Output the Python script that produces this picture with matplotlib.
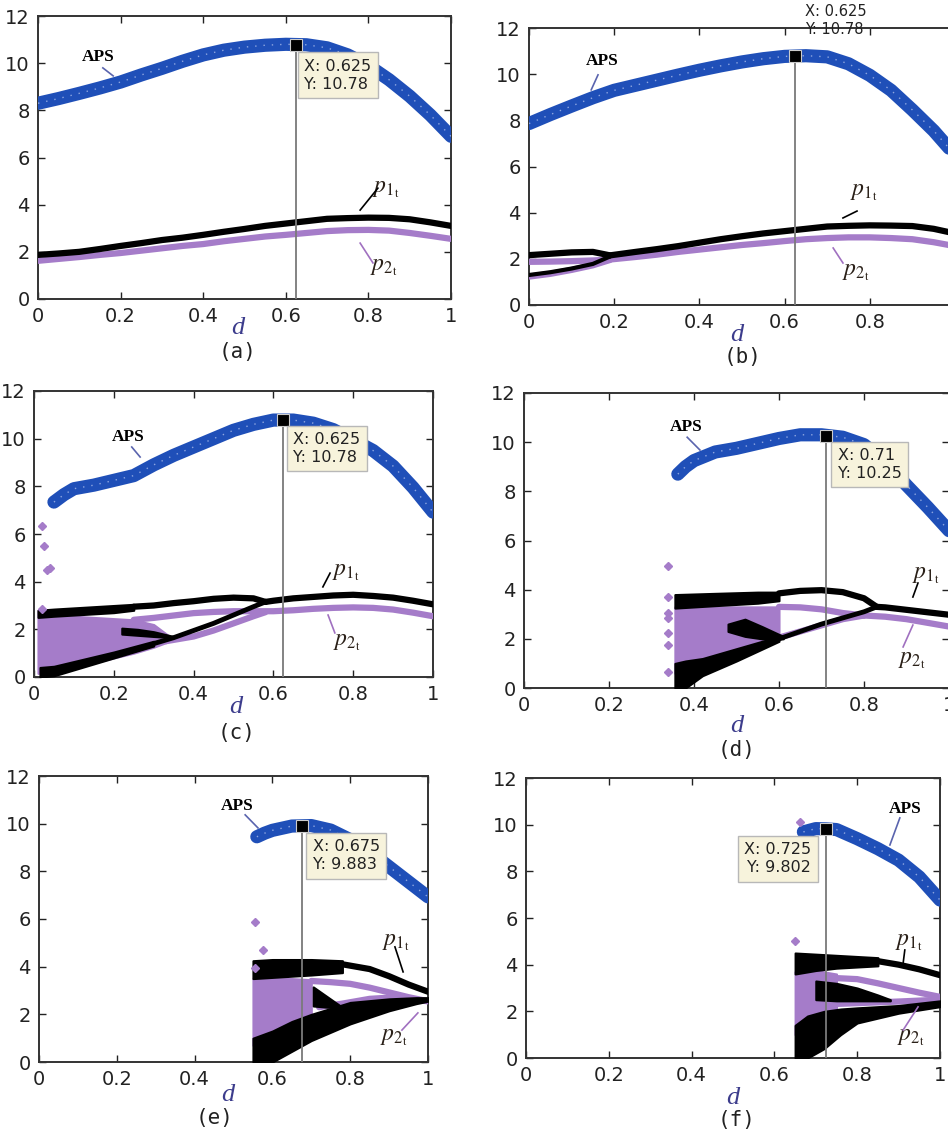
import matplotlib.pyplot as plt

# ---------------------------------------------------------------
# colours
# ---------------------------------------------------------------
BLUE = '#1f4fb8'
PURPLE = '#a57cc9'
BLACK = '#000000'
TIPBG = '#f7f3dc'

# ---------------------------------------------------------------
# data
# ---------------------------------------------------------------
grid = [0, .05, .1, .15, .2, .25, .3, .35, .4, .45, .5,
        .55, .6, .65, .7, .75, .8, .85, .9, .95, 1.0]

# (a)
aps_a = [8.3, 8.5, 8.72, 8.95, 9.2, 9.5, 9.78, 10.08, 10.35, 10.55, 10.68,
         10.76, 10.8, 10.78, 10.65, 10.35, 9.9, 9.3, 8.6, 7.8, 6.9]
p1_a = [1.87, 1.93, 2.0, 2.12, 2.25, 2.37, 2.5, 2.6, 2.72, 2.85, 2.97,
        3.1, 3.2, 3.3, 3.4, 3.43, 3.45, 3.44, 3.38, 3.25, 3.1]
p2_a = [1.62, 1.7, 1.78, 1.87, 1.95, 2.05, 2.15, 2.25, 2.33, 2.45, 2.55,
        2.65, 2.72, 2.8, 2.88, 2.92, 2.93, 2.9, 2.8, 2.68, 2.55]

# (b)
aps_b = [7.86, 8.25, 8.62, 8.98, 9.3, 9.52, 9.74, 9.96, 10.17, 10.36, 10.53,
         10.67, 10.77, 10.8, 10.75, 10.45, 9.95, 9.3, 8.45, 7.55, 6.5]
d_b_split = [0, .05, .1, .15, .19]
p1_b_hi = [2.16, 2.22, 2.28, 2.3, 2.15]
p1_b_lo = [1.3, 1.42, 1.58, 1.78, 2.1]
p2_b_hi = [1.87, 1.88, 1.9, 1.93, 1.97]
p2_b_lo = [1.23, 1.35, 1.52, 1.72, 1.95]
d_b_tail = [.19, .25, .3, .35, .4, .45, .5, .55, .6, .65, .7, .75, .8, .85, .9, .95, 1.0]
p1_b = [2.15, 2.3, 2.42, 2.55, 2.7, 2.85, 2.98, 3.1, 3.2, 3.3, 3.4, 3.43, 3.45, 3.44, 3.42, 3.3, 3.1]
p2_b = [1.97, 2.08, 2.18, 2.3, 2.4, 2.5, 2.6, 2.68, 2.77, 2.85, 2.9, 2.93, 2.93, 2.9, 2.85, 2.72, 2.55]

# (c)
d_c_aps = [.05, .075, .1, .15, .2, .25, .3, .35, .4, .45, .5, .55, .6, .65,
           .7, .75, .8, .85, .9, .95, 1.0]
aps_c = [7.34, 7.65, 7.9, 8.05, 8.25, 8.45, 8.9, 9.3, 9.65, 10.0, 10.35, 10.6,
         10.78, 10.78, 10.65, 10.38, 9.95, 9.5, 8.85, 7.95, 6.92]
c_mass_d = [.01, .05, .1, .15, .2, .25, .3, .34]
c_mass_lo = [.15, .3, .45, .6, .8, 1.0, 1.25, 1.5]
c_mass_hi = [2.8, 2.6, 2.55, 2.5, 2.45, 2.4, 2.2, 1.7]
c_top_d = [.01, .05, .1, .15, .2, .25]
c_top_lo = [2.5, 2.55, 2.6, 2.65, 2.7, 2.8]
c_top_hi = [2.8, 2.85, 2.9, 2.95, 3.0, 3.05]
c_bot_d = [.015, .05, .1, .2, .3]
c_bot_lo = [0.0, .05, .3, .8, 1.3]
c_bot_hi = [.4, .45, .65, 1.05, 1.5]
c_isl_d = [.22, .26, .3, .35]
c_isl_lo = [1.8, 1.75, 1.7, 1.65]
c_isl_hi = [2.05, 2.0, 1.9, 1.7]
c_p1up_d = [.25, .3, .35, .4, .45, .5, .55, .58]
c_p1up = [2.95, 3.0, 3.1, 3.18, 3.28, 3.33, 3.3, 3.15]
c_p1lo_d = [.3, .35, .4, .45, .5, .55, .58]
c_p1lo = [1.4, 1.65, 1.95, 2.25, 2.6, 2.95, 3.15]
c_p1_d = [.58, .6, .65, .7, .75, .8, .85, .9, .95, 1.0]
c_p1 = [3.15, 3.2, 3.3, 3.36, 3.42, 3.45, 3.4, 3.33, 3.2, 3.05]
c_p2up_d = [.25, .3, .35, .4, .45, .5, .55, .6, .65, .7, .75, .8, .85, .9, .95, 1.0]
c_p2up = [2.4, 2.48, 2.58, 2.68, 2.73, 2.76, 2.76, 2.76, 2.8, 2.86, 2.9, 2.92, 2.9, 2.83, 2.7, 2.55]
c_p2lo_d = [.33, .4, .45, .5, .55, .58]
c_p2lo = [1.5, 1.7, 1.95, 2.25, 2.55, 2.72]
c_out_d = [.02, .025, .033, .04, .02]
c_out_y = [6.34, 5.5, 4.49, 4.57, 2.85]

# (d)
d_d_aps = [.362, .38, .4, .45, .5, .55, .6, .65, .7, .75, .8, .85, .9, .95, 1.0]
aps_d = [8.7, 9.0, 9.25, 9.6, 9.75, 9.95, 10.15, 10.3, 10.3, 10.2, 9.9, 9.2, 8.25, 7.35, 6.4]
d_mass_d = [.355, .4, .45, .5, .55, .6]
d_mass_lo = [.6, .9, 1.2, 1.5, 1.8, 2.05]
d_mass_hi = [3.3, 3.3, 3.3, 3.3, 3.3, 3.3]
d_top_d = [.355, .45, .55, .6]
d_top_lo = [3.25, 3.35, 3.45, 3.55]
d_top_hi = [3.8, 3.85, 3.9, 3.9]
d_bot_d = [.355, .38, .42, .5, .6]
d_bot_lo = [0.0, 0.0, .5, 1.1, 1.9]
d_bot_hi = [1.0, 1.1, 1.2, 1.6, 2.1]
d_isl_d = [.48, .52, .56, .61]
d_isl_lo = [2.3, 2.1, 2.0, 2.0]
d_isl_hi = [2.6, 2.8, 2.5, 2.1]
d_p1up_d = [.6, .65, .7, .75, .8, .83]
d_p1up = [3.85, 3.95, 3.98, 3.9, 3.65, 3.3]
d_p1lo_d = [.6, .65, .7, .75, .8, .83]
d_p1lo = [2.0, 2.3, 2.6, 2.85, 3.1, 3.3]
d_p1_d = [.83, .85, .9, .95, 1.0]
d_p1 = [3.3, 3.28, 3.18, 3.08, 2.98]
d_p2up_d = [.6, .65, .7, .75, .8]
d_p2up = [3.3, 3.28, 3.2, 3.05, 2.95]
d_p2lo_d = [.6, .65, .7, .75, .8]
d_p2lo = [2.05, 2.3, 2.55, 2.8, 2.95]
d_p2_d = [.8, .85, .9, .95, 1.0]
d_p2 = [2.95, 2.9, 2.8, 2.65, 2.5]
d_out_d = [.339, .339, .339, .339, .339, .339, .339]
d_out_y = [4.96, 3.7, 3.05, 2.85, 2.24, 1.75, .65]

# (e)
d_e_aps = [.56, .58, .6, .65, .7, .75, .8, .85, .9, .95, 1.0]
aps_e = [9.45, 9.6, 9.72, 9.9, 9.92, 9.73, 9.33, 8.82, 8.19, 7.56, 6.93]
e_mass_d = [.55, .6, .65, .7]
e_mass_lo = [.7, 1.0, 1.4, 1.8]
e_mass_hi = [3.5, 3.5, 3.5, 3.45]
e_top_d = [.55, .6, .7, .78]
e_top_lo = [3.5, 3.55, 3.65, 3.75]
e_top_hi = [4.25, 4.3, 4.3, 4.25]
e_bot_d = [.55, .6, .65, .7, .8, .9, .97, 1.0]
e_bot_lo = [0.0, 0.0, .45, .9, 1.6, 2.15, 2.45, 2.55]
e_bot_hi = [1.0, 1.3, 1.7, 2.0, 2.5, 2.65, 2.7, 2.7]
e_isl_d = [.705, .74, .775]
e_isl_lo = [2.35, 2.3, 2.28]
e_isl_hi = [3.15, 2.75, 2.35]
e_p1up_d = [.78, .85, .9, .95, 1.0]
e_p1up = [4.1, 3.9, 3.6, 3.25, 2.95]
e_p2up_d = [.7, .75, .8, .85, .9, .95, 1.0]
e_p2up = [3.4, 3.35, 3.28, 3.12, 2.92, 2.72, 2.55]
e_p2lo_d = [.72, .78, .85, .9, .95, 1.0]
e_p2lo = [2.3, 2.45, 2.65, 2.7, 2.62, 2.55]
e_out_d = [.555, .576, .555]
e_out_y = [5.87, 4.7, 3.94]

# (f)
d_f_aps = [.67, .7, .725, .75, .8, .85, .9, .95, 1.0]
aps_f = [9.69, 9.83, 9.82, 9.79, 9.4, 8.97, 8.48, 7.76, 6.77]
f_mass_d = [.65, .7, .75]
f_mass_lo = [1.0, 1.2, 1.5]
f_mass_hi = [3.7, 3.75, 3.6]
f_top_d = [.65, .7, .75, .8, .85]
f_top_lo = [3.6, 3.75, 3.85, 3.9, 3.95]
f_top_hi = [4.5, 4.45, 4.4, 4.35, 4.3]
f_bot_d = [.65, .68, .72, .76, .8, .9, 1.0]
f_bot_lo = [0.0, 0.0, .4, 1.0, 1.5, 1.92, 2.2]
f_bot_hi = [1.4, 1.8, 2.0, 2.1, 2.15, 2.25, 2.45]
f_isl_d = [.7, .75, .8, .85, .88]
f_isl_lo = [2.5, 2.45, 2.45, 2.45, 2.45]
f_isl_hi = [3.3, 3.2, 3.0, 2.7, 2.5]
f_p1up_d = [.85, .9, .95, 1.0]
f_p1up = [4.15, 4.0, 3.8, 3.55]
f_p2up_d = [.72, .8, .85, .9, .95, 1.0]
f_p2up = [3.45, 3.38, 3.2, 3.0, 2.8, 2.62]
f_p2lo_d = [.72, .8, .9, 1.0]
f_p2lo = [2.3, 2.35, 2.42, 2.5]
f_out_d = [.662, .65]
f_out_y = [10.11, 5.0]

# data tips: x, y
tips = {'a': (0.625, 10.78), 'b': (0.625, 10.78), 'c': (0.625, 10.78),
        'd': (0.71, 10.25), 'e': (0.675, 9.883), 'f': (0.725, 9.802)}

# ---------------------------------------------------------------
# figure
# ---------------------------------------------------------------
W, H = 948, 1133
fig = plt.figure(figsize=(W / 100, H / 100), dpi=100)
plt.rcParams['mathtext.fontset'] = 'stix'


def add_ax(l, t, r, b):
    return fig.add_axes([l / W, 1 - b / H, (r - l) / W, (b - t) / H])


def style(ax):
    ax.set_xlim(0, 1)
    ax.set_ylim(0, 12)
    ax.set_xticks([0, .2, .4, .6, .8, 1])
    ax.set_xticklabels(['0', '0.2', '0.4', '0.6', '0.8', '1'])
    ax.set_yticks([0, 2, 4, 6, 8, 10, 12])
    ax.tick_params(direction='in', top=True, right=True, length=5, width=1,
                   labelsize=14, colors='#222222', pad=6)
    for s in ax.spines.values():
        s.set_linewidth(1.4)
        s.set_color('#333333')


def aps(ax, d, y):
    # thick band of the APS curve with light speckle inside
    ax.plot(d, y, color=BLUE, lw=9.5, solid_capstyle='round', zorder=3)
    ax.plot(d, y, ls=(0, (1, 5)), color='#8ea6e0', lw=1.0, zorder=4)


def line(ax, d, y, color, lw=4.5, z=4):
    ax.plot(d, y, color=color, lw=lw, solid_capstyle='round', zorder=z)


def band(ax, d, lo, hi, color, z=3):
    ax.fill_between(d, lo, hi, color=color, lw=1.5, edgecolor=color, zorder=z)


def tip(ax, key, dx, dy, ha='left', va='top', box=True, fs=11.5):
    x, y = tips[key]
    ax.plot([x, x], [0, y], color='#7a7a7a', lw=1.3, zorder=5)
    ax.plot(x, y, 's', ms=8, mfc='black', mec='#cccccc', mew=0.8, zorder=7)
    kw = dict(xy=(x, y), xytext=(dx, dy), textcoords='offset pixels', ha=ha, va=va,
              fontsize=fs, color='#222222', zorder=8, linespacing=1.25,
              annotation_clip=False)
    if box:
        kw['bbox'] = dict(boxstyle='square,pad=0.4', fc=TIPBG, ec='#b8b8b8', lw=1)
    ax.annotate(f'X: {x:g}\nY: {y:g}', **kw)


def labels(ax, aps_txt, aps_ln, p1_txt, p1_ln, p2_txt, p2_ln):
    ax.text(*aps_txt, 'APS', fontsize=12.5, family='Liberation Serif',
            weight='bold', ha='center', va='center', zorder=8)
    ax.plot(*aps_ln, color='#5a64ae', lw=1.2, zorder=8)
    ax.text(*p1_txt, r'$p_{1_{\mathrm{t}}}$', fontsize=17, color='#2a2018',
            ha='left', va='baseline', zorder=8)
    ax.plot(*p1_ln, color=BLACK, lw=1.2, zorder=8)
    ax.text(*p2_txt, r'$p_{2_{\mathrm{t}}}$', fontsize=17, color='#2a2018',
            ha='left', va='baseline', zorder=8)
    ax.plot(*p2_ln, color='#a070c0', lw=1.2, zorder=8)


def captions(xd, yd, xc, yc, letter):
    fig.text(xd / W, 1 - yd / H, 'd', fontsize=19, family='Liberation Serif',
             style='italic', color='#3c3c8c', ha='center', va='center')
    fig.text(xc / W, 1 - yc / H, f'({letter})', fontsize=15, family='DejaVu Sans Mono',
             color='#222222', ha='center', va='center')


# (a)
ax = add_ax(38, 16, 451, 299)
style(ax)
aps(ax, grid, aps_a)
line(ax, grid, p2_a, PURPLE)
line(ax, grid, p1_a, BLACK)
tip(ax, 'a', 8, -14)
labels(ax, (0.145, 10.26), ([0.157, 0.182], [9.8, 9.46]),
       (0.809, 4.54), ([0.780, 0.823], [3.77, 4.7]),
       (0.804, 1.23), ([0.780, 0.811], [2.37, 1.53]))
captions(238, 328, 238, 352, 'a')

# (b)
ax = add_ax(529, 28, 955, 305)
style(ax)
aps(ax, grid, aps_b)
line(ax, d_b_split, p2_b_hi, PURPLE)
line(ax, d_b_split, p2_b_lo, PURPLE)
line(ax, d_b_tail, p2_b, PURPLE)
line(ax, d_b_split, p1_b_hi, BLACK)
line(ax, d_b_split, p1_b_lo, BLACK, lw=3)
line(ax, d_b_tail, p1_b, BLACK)
tip(ax, 'b', 10, 19, va='bottom', box=False, fs=10.5)
labels(ax, (0.171, 10.58), ([0.146, 0.162], [9.32, 9.97]),
       (0.754, 4.77), ([0.737, 0.770], [3.77, 4.07]),
       (0.735, 1.3), ([0.714, 0.737], [2.47, 1.82]))
captions(737, 335, 743, 357, 'b')

# (c)
ax = add_ax(34, 391, 433, 677)
style(ax)
aps(ax, d_c_aps, aps_c)
band(ax, c_mass_d, c_mass_lo, c_mass_hi, PURPLE, z=2)
line(ax, c_p2up_d, c_p2up, PURPLE, z=3)
line(ax, c_p2lo_d, c_p2lo, PURPLE, z=3)
band(ax, c_top_d, c_top_lo, c_top_hi, BLACK)
band(ax, c_bot_d, c_bot_lo, c_bot_hi, BLACK)
band(ax, c_isl_d, c_isl_lo, c_isl_hi, BLACK)
line(ax, c_p1up_d, c_p1up, BLACK)
line(ax, c_p1lo_d, c_p1lo, BLACK, lw=3.5)
line(ax, c_p1_d, c_p1, BLACK)
ax.plot(c_out_d, c_out_y, 'D', ms=4.5, color=PURPLE, zorder=4)
tip(ax, 'c', 10, -12)
labels(ax, (0.235, 10.07), ([0.245, 0.266], [9.65, 9.23]),
       (0.747, 4.28), ([0.724, 0.742], [3.78, 4.36]),
       (0.749, 1.34), ([0.737, 0.754], [2.6, 1.85]))
captions(236, 707, 237, 733, 'c')

# (d)
ax = add_ax(524, 393, 949, 688)
style(ax)
aps(ax, d_d_aps, aps_d)
band(ax, d_mass_d, d_mass_lo, d_mass_hi, PURPLE, z=2)
line(ax, d_p2up_d, d_p2up, PURPLE, z=3)
line(ax, d_p2lo_d, d_p2lo, PURPLE, z=3)
line(ax, d_p2_d, d_p2, PURPLE, z=3)
band(ax, d_top_d, d_top_lo, d_top_hi, BLACK)
band(ax, d_bot_d, d_bot_lo, d_bot_hi, BLACK)
band(ax, d_isl_d, d_isl_lo, d_isl_hi, BLACK)
line(ax, d_p1up_d, d_p1up, BLACK)
line(ax, d_p1lo_d, d_p1lo, BLACK, lw=3.5)
line(ax, d_p1_d, d_p1, BLACK)
ax.plot(d_out_d, d_out_y, 'D', ms=4.5, color=PURPLE, zorder=4)
tip(ax, 'd', 12, -12)
labels(ax, (0.381, 10.62), ([0.384, 0.414], [10.2, 9.68]),
       (0.913, 4.47), ([0.915, 0.927], [3.7, 4.27]),
       (0.88, 1.02), ([0.892, 0.915], [1.67, 2.56]))
captions(737, 726, 737, 750, 'd')

# (e)
ax = add_ax(39, 776, 428, 1062)
style(ax)
aps(ax, d_e_aps, aps_e)
band(ax, e_mass_d, e_mass_lo, e_mass_hi, PURPLE, z=2)
line(ax, e_p2up_d, e_p2up, PURPLE, z=3)
line(ax, e_p2lo_d, e_p2lo, PURPLE, z=3)
band(ax, e_top_d, e_top_lo, e_top_hi, BLACK)
band(ax, e_bot_d, e_bot_lo, e_bot_hi, BLACK)
band(ax, e_isl_d, e_isl_lo, e_isl_hi, BLACK)
line(ax, e_p1up_d, e_p1up, BLACK)
ax.plot(e_out_d, e_out_y, 'D', ms=4.5, color=PURPLE, zorder=4)
tip(ax, 'e', 11, -13)
labels(ax, (0.509, 10.74), ([0.53, 0.563], [10.37, 9.82]),
       (0.882, 4.91), ([0.915, 0.936], [4.83, 3.78]),
       (0.877, 0.92), ([0.933, 0.974], [1.34, 2.06]))
captions(228, 1095, 215, 1118, 'e')

# (f)
ax = add_ax(526, 778, 940, 1058)
style(ax)
aps(ax, d_f_aps, aps_f)
band(ax, f_mass_d, f_mass_lo, f_mass_hi, PURPLE, z=2)
line(ax, f_p2up_d, f_p2up, PURPLE, z=3)
line(ax, f_p2lo_d, f_p2lo, PURPLE, z=3)
band(ax, f_top_d, f_top_lo, f_top_hi, BLACK)
band(ax, f_bot_d, f_bot_lo, f_bot_hi, BLACK)
band(ax, f_isl_d, f_isl_lo, f_isl_hi, BLACK)
line(ax, f_p1up_d, f_p1up, BLACK)
ax.plot(f_out_d, f_out_y, 'D', ms=4.5, color=PURPLE, zorder=4)
tip(ax, 'f', -15, -13, ha='right')
labels(ax, (0.915, 10.67), ([0.903, 0.879], [10.29, 9.13]),
       (0.891, 4.84), ([0.915, 0.911], [4.63, 4.07]),
       (0.896, 0.77), ([0.911, 0.947], [1.2, 2.19]))
captions(733, 1098, 737, 1120, 'f')

fig.savefig('out.png', dpi=100)
